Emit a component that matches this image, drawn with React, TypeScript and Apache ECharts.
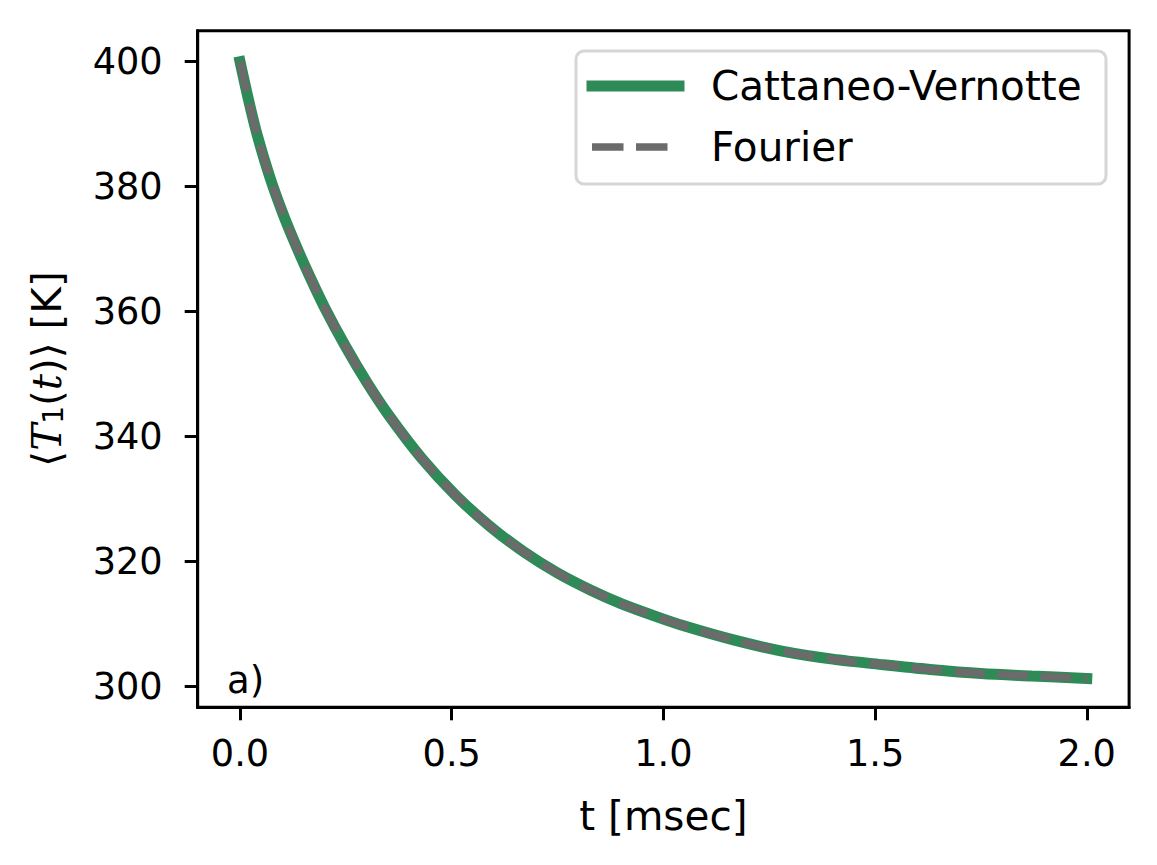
import React, { useEffect, useRef } from "react";
import * as echarts from "echarts";

// time in msec
const tValues = [0, 0.02, 0.04, 0.07, 0.1, 0.13, 0.16, 0.2, 0.25, 0.3, 0.35, 0.43, 0.51, 0.59, 0.67, 0.75, 0.83, 0.9, 0.98, 1.05, 1.17, 1.28, 1.4, 1.52, 1.63, 1.75, 1.87, 2.0];
// <T1(t)> [K], Cattaneo-Vernotte
const cattaneoValues = [400.0, 393.9, 388.4, 381.6, 375.9, 370.9, 366.3, 360.6, 354.3, 348.6, 343.5, 336.4, 330.5, 325.6, 321.5, 318.1, 315.3, 313.2, 311.2, 309.6, 307.3, 305.6, 304.3, 303.4, 302.65, 302.0, 301.6, 301.2];
// <T1(t)> [K], Fourier
const fourierValues = [400.0, 393.9, 388.4, 381.6, 375.9, 370.9, 366.3, 360.6, 354.3, 348.6, 343.5, 336.4, 330.5, 325.6, 321.5, 318.1, 315.3, 313.2, 311.2, 309.6, 307.3, 305.6, 304.3, 303.4, 302.65, 302.0, 301.6, 301.2];

const xTicks = [0, 0.5, 1.0, 1.5, 2.0];
const yTicks = [300, 320, 340, 360, 380, 400];
const seriesNames = ["Cattaneo-Vernotte", "Fourier"];
const seriesColors = ["#2e8b57", "#6b6b6b"];

const FONT = "DejaVu Sans";

export default function App() {
  const ref = useRef<HTMLDivElement>(null);
  useEffect(() => {
    if (!ref.current) return;
    const chart = echarts.init(ref.current, undefined, { renderer: "svg" });
    const pairs = (ys: number[]) => tValues.map((t, i) => [t, ys[i]]);
    chart.setOption({
      animation: false,
      backgroundColor: "#ffffff",
      grid: {
        left: 197.7,
        top: 30.7,
        width: 931.4,
        height: 676.6,
        show: true,
        borderColor: "#000",
        borderWidth: 3,
        backgroundColor: "transparent",
      },
      xAxis: {
        type: "value",
        min: -0.1,
        max: 2.1,
        name: "t [msec]",
        nameLocation: "middle",
        nameGap: 88,
        nameTextStyle: { fontFamily: FONT, fontSize: 40.5, color: "#000" },
        axisLine: { show: true, onZero: false, lineStyle: { color: "#000", width: 3 } },
        axisTick: { show: true, inside: false, length: 13, lineStyle: { color: "#000", width: 3 }, customValues: xTicks },
        axisLabel: {
          show: true,
          margin: 28,
          fontFamily: FONT,
          fontSize: 36.7,
          color: "#000",
          customValues: xTicks,
          formatter: (v: number) => v.toFixed(1),
        },
        splitLine: { show: false },
      },
      yAxis: {
        type: "value",
        min: 296.59,
        max: 404.97,
        name: "{a|⟨}{b|T}{c|1}{a|(}{d|t}{a|)⟩ [K]}",
        nameLocation: "middle",
        nameRotate: 90,
        nameGap: 130,
        nameTextStyle: {
          color: "#000",
          rich: {
            a: { fontFamily: FONT, fontSize: 40.5, color: "#000" },
            b: { fontFamily: "DejaVu Serif", fontStyle: "italic", fontSize: 40.5, color: "#000" },
            c: { fontFamily: FONT, fontSize: 28, color: "#000", padding: [14, 0, 0, 0] },
            d: { fontFamily: "DejaVu Serif", fontStyle: "italic", fontSize: 40.5, color: "#000" },
          },
        },
        axisLine: { show: true, onZero: false, lineStyle: { color: "#000", width: 3 } },
        axisTick: { show: true, inside: false, length: 13, lineStyle: { color: "#000", width: 3 }, customValues: yTicks },
        axisLabel: {
          show: true,
          margin: 35,
          fontFamily: FONT,
          fontSize: 36.7,
          color: "#000",
          customValues: yTicks,
          formatter: (v: number) => String(Math.round(v)),
        },
        splitLine: { show: false },
      },
      graphic: [
        {
          type: "text",
          left: 227,
          top: 662,
          z: 10,
          style: { text: "a)", fontFamily: FONT, fontSize: 37, fill: "#000" },
        },
        {
          type: "group",
          z: 10,
          children: [
            {
              type: "rect",
              shape: { x: 576, y: 51, width: 530, height: 133, r: 8 },
              style: { fill: "rgba(255,255,255,0.8)", stroke: "#d6d6d6", lineWidth: 3 },
            },
            {
              type: "line",
              shape: { x1: 592, y1: 86, x2: 679, y2: 86 },
              style: { stroke: seriesColors[0], lineWidth: 11, lineCap: "square" },
            },
            {
              type: "line",
              shape: { x1: 592, y1: 147, x2: 680, y2: 147 },
              style: { stroke: seriesColors[1], lineWidth: 7.5, lineDash: [31.5, 12.5], lineCap: "butt" },
            },
            {
              type: "text",
              x: 711,
              y: 86,
              style: { text: seriesNames[0], fontFamily: FONT, fontSize: 40.5, fill: "#000", verticalAlign: "middle" },
            },
            {
              type: "text",
              x: 711,
              y: 147,
              style: { text: seriesNames[1], fontFamily: FONT, fontSize: 40.5, fill: "#000", verticalAlign: "middle" },
            },
          ],
        },
      ],
      series: [
        {
          name: seriesNames[0],
          type: "line",
          data: pairs(cattaneoValues),
          showSymbol: false,
          symbol: "none",
          smooth: 0.3,
          lineStyle: { color: seriesColors[0], width: 11, cap: "square" },
          itemStyle: { color: seriesColors[0] },
          z: 2,
        },
        {
          name: seriesNames[1],
          type: "line",
          data: pairs(fourierValues),
          showSymbol: false,
          symbol: "none",
          smooth: 0.3,
          lineStyle: { color: seriesColors[1], width: 7.5, type: [30, 13], cap: "butt" },
          itemStyle: { color: seriesColors[1] },
          z: 3,
        },
      ],
    });
    return () => chart.dispose();
  }, []);
  return (
    <div
      ref={ref}
      style={{ position: "fixed", left: 0, top: 0, width: 1157, height: 865, background: "#fff" }}
    />
  );
}
